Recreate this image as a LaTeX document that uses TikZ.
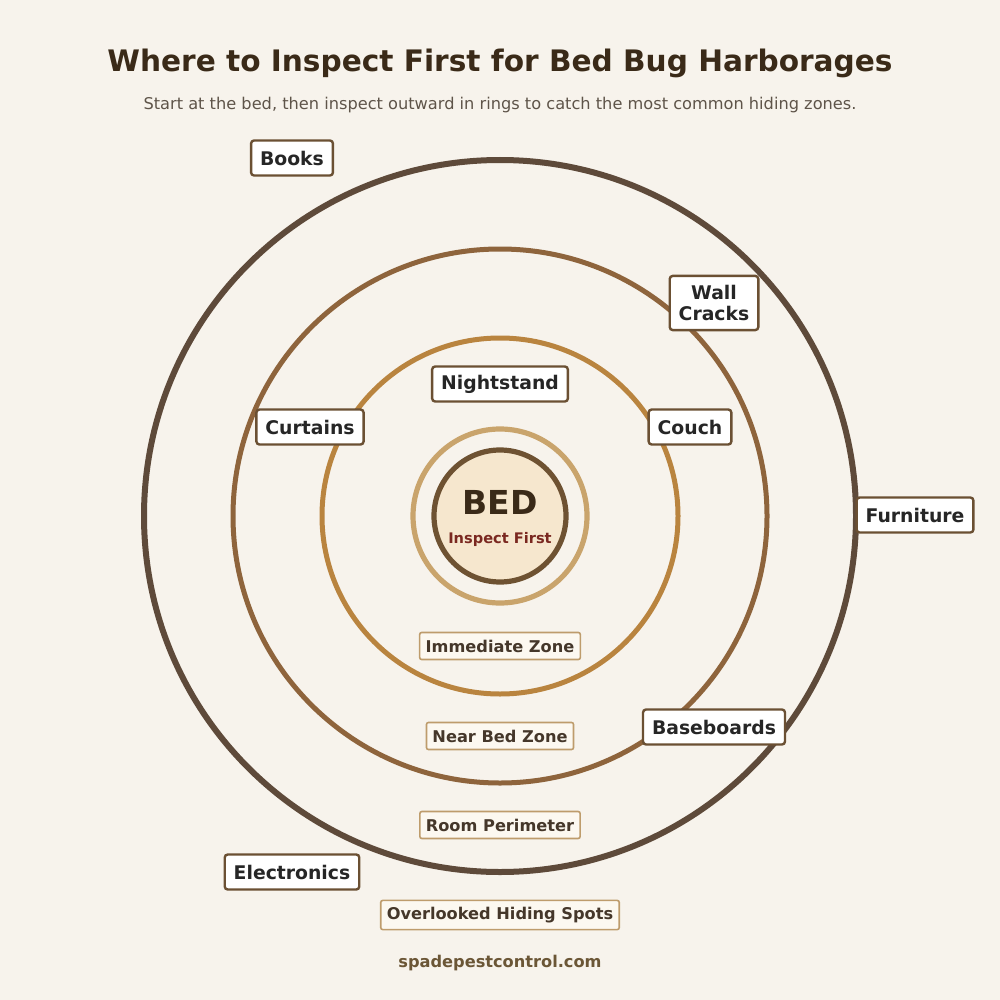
\documentclass[tikz,border=0pt]{standalone}
\usepackage{fontspec}
\setmainfont{DejaVu Sans}
\definecolor{bgcol}{HTML}{F7F3EC}
\definecolor{titlecol}{HTML}{3A2A18}
\definecolor{subcol}{HTML}{5E5449}
\definecolor{outercol}{HTML}{5E4A3A}
\definecolor{middlecol}{HTML}{8E643C}
\definecolor{innercol}{HTML}{B9843F}
\definecolor{halocol}{HTML}{C9A46C}
\definecolor{bedline}{HTML}{6E5232}
\definecolor{bedfill}{HTML}{F6E7CE}
\definecolor{redcol}{HTML}{7A2820}
\definecolor{labelline}{HTML}{6B5033}
\definecolor{zoneline}{HTML}{BE9C6C}
\definecolor{zonefill}{HTML}{FCF8F0}
\definecolor{zonetext}{HTML}{45372A}
\definecolor{footcol}{HTML}{6B5636}
\tikzset{
  spot/.style={draw=labelline, line width=1.2pt, fill=white, rounded corners=1.5pt,
    font=\bfseries\fontsize{9.4}{10.8}\selectfont, text=black!85, inner xsep=4.5pt,
    minimum height=17.5pt, align=center},
  zone/.style={draw=zoneline, line width=0.8pt, fill=zonefill, rounded corners=1pt,
    font=\bfseries\fontsize{8.1}{9}\selectfont, text=zonetext, inner xsep=3pt,
    minimum height=13.5pt}
}
\begin{document}
\begin{tikzpicture}[x=0.5pt, y=-0.5pt]
        \useasboundingbox[fill=bgcol] (0,0) rectangle (1000,1000);
        \node[font=\bfseries\fontsize{14.8}{16}\selectfont, text=titlecol] (title) at (500, 63) {Where to Inspect First for Bed Bug Harborages};
        \node[font=\fontsize{8.1}{9}\selectfont, text=subcol] (subtitle) at (500, 105) {Start at the bed, then inspect outward in rings to catch the most common hiding zones.};
        % rings
        \coordinate (c) at (500, 516);
        \draw[outercol, line width=3pt] (c) circle[radius=356];
        \draw[middlecol, line width=2.5pt] (c) circle[radius=267];
        \draw[innercol, line width=2.5pt] (c) circle[radius=178];
        \draw[halocol, line width=2.6pt] (c) circle[radius=87];
        \node[circle, draw=bedline, line width=2.6pt, fill=bedfill, minimum size=66pt] (bed) at (c) {};
        \node[font=\bfseries\fontsize{16.5}{18}\selectfont, text=titlecol] (bedtext) at (500, 502) {BED};
        \node[font=\bfseries\fontsize{7.3}{8}\selectfont, text=redcol] (first) at (500, 539) {Inspect First};
        % zone labels
        \node[zone] (immediate) at (500, 646) {Immediate Zone};
        \node[zone] (nearbed) at (500, 736) {Near Bed Zone};
        \node[zone] (perimeter) at (500, 825) {Room Perimeter};
        \node[zone] (overlooked) at (500, 915) {Overlooked Hiding Spots};
        % hiding spots
        \node[spot] (nightstand) at (500, 384) {Nightstand};
        \node[spot] (curtains) at (310, 427) {Curtains};
        \node[spot] (couch) at (690, 427) {Couch};
        \node[spot, inner ysep=4.5pt] (wallcracks) at (714, 303) {Wall\\Cracks};
        \node[spot] (baseboards) at (714, 727) {Baseboards};
        \node[spot] (books) at (292, 158) {Books};
        \node[spot] (furniture) at (915, 515) {Furniture};
        \node[spot] (electronics) at (292, 872) {Electronics};
        \node[font=\bfseries\fontsize{8.1}{9}\selectfont, text=footcol] (footer) at (500, 963) {spadepestcontrol.com};
\end{tikzpicture}
\end{document}
